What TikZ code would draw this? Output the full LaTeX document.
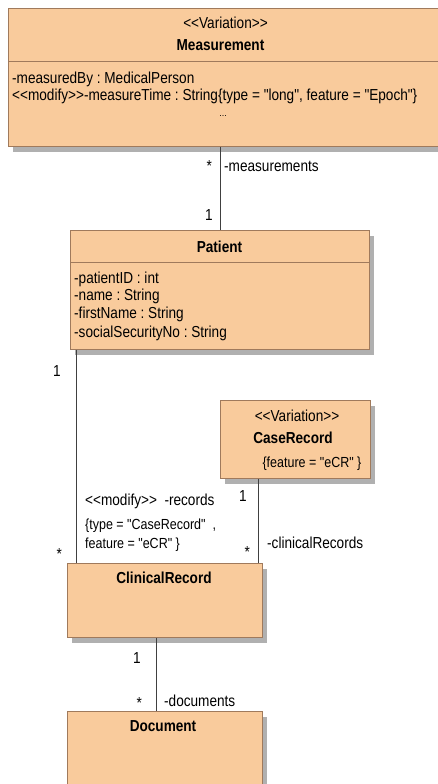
\documentclass[tikz,border=0pt]{standalone}
\usepackage{graphicx}
\usetikzlibrary{shadows}
\font\lsreg="Liberation Sans" at 13.6pt
\font\lsbold="Liberation Sans/B" at 13.6pt
\font\lssmall="Liberation Sans" at 12.5pt
\font\lstiny="Liberation Sans" at 9pt
\frenchspacing
\newcommand{\vst}[1]{\scalebox{1}[1.17]{#1}}
\definecolor{boxfill}{HTML}{F9CB9C}
\definecolor{boxline}{HTML}{A07A5C}
\definecolor{shadowc}{HTML}{B0B0B0}
\definecolor{linec}{HTML}{404040}
\tikzset{
  umlbox/.style={draw=boxline, fill=boxfill, line width=1pt, inner sep=0pt, anchor=north west,
    rectangle, general shadow={shadow xshift=4pt, shadow yshift=-5pt, fill=shadowc}},
  txt/.style={inner sep=0pt, font=\lsreg},
  btxt/.style={inner sep=0pt, font=\lsbold},
  stxt/.style={inner sep=0pt, font=\lssmall},
  conn/.style={draw=linec, line width=0.8pt},
}
\begin{document}
\begin{tikzpicture}[x=1pt,y=-1pt]
\clip (0,0) rectangle (438,784);
\fill[white] (0,0) rectangle (438,784);

% boxes
\node[umlbox, minimum width=432pt, minimum height=138pt] (meas) at (8,8) {};
\draw[boxline, line width=1pt] (meas.west |- 0,62) -- (meas.east |- 0,62);
\node[umlbox, minimum width=299pt, minimum height=119pt] (patient) at (70,230) {};
\draw[boxline, line width=1pt] (patient.west |- 0,262) -- (patient.east |- 0,262);
\node[umlbox, minimum width=150pt, minimum height=78pt] (caserec) at (220,400) {};
\node[umlbox, minimum width=195pt, minimum height=74pt] (clin) at (67,563) {};
\node[umlbox, minimum width=195pt, minimum height=95pt] (doc) at (67,711) {};

% Measurement texts
\node[txt, anchor=base] (mvar) at (225.5,29) {\vst{<<Variation>>}};
\node[btxt, anchor=base] (mname) at (220.5,51) {\vst{Measurement}};
\node[txt, anchor=base west] (ma1) at (12,84) {\vst{-measuredBy : MedicalPerson}};
\node[txt, anchor=base west] (ma2) at (12,100) {\vst{<<modify>>-measureTime : String\{type = "long", feature = "Epoch"\}}};
\node[inner sep=0pt, font=\lstiny, anchor=base] (mdots) at (223,116) {...};

% Patient texts
\node[btxt, anchor=base] (pname) at (219.5,252) {\vst{Patient}};
\node[txt, anchor=base west] (pa1) at (74,283) {\vst{-patientID : int}};
\node[txt, anchor=base west] (pa2) at (74,300.5) {\vst{-name : String}};
\node[txt, anchor=base west] (pa3) at (74,318.5) {\vst{-firstName : String}};
\node[txt, anchor=base west] (pa4) at (74,337) {\vst{-socialSecurityNo : String}};

% CaseRecord texts
\node[txt, anchor=base] (cvar) at (297,421) {\vst{<<Variation>>}};
\node[btxt, anchor=base] (cname) at (293,443) {\vst{CaseRecord}};
\node[stxt, anchor=base] (cfeat) at (312,467) {\vst{\{feature = "eCR" \}}};

% ClinicalRecord / Document texts
\node[btxt, anchor=base] (clname) at (164,583) {\vst{ClinicalRecord}};
\node[btxt, anchor=base] (dname) at (163,731) {\vst{Document}};

% connectors
\draw[conn] (patient.north) -- (patient.north |- meas.south);
\coordinate (pb) at ([xshift=6pt]patient.south west);
\draw[conn] (pb) -- (pb |- clin.north);
\coordinate (cb) at ([xshift=38pt]caserec.south west);
\draw[conn] (cb) -- (cb |- clin.north);
\coordinate (clb) at ([xshift=89pt]clin.south west);
\draw[conn] (clb) -- (clb |- doc.north);

% association labels
\node[txt, anchor=base east] (l1) at (212,171) {\vst{*}};
\node[txt, anchor=base west] (l2) at (224,171) {\vst{-measurements}};
\node[txt, anchor=base east] (l3) at (213,220) {\vst{1}};

\node[txt, anchor=base east] (l4) at (61,376) {\vst{1}};
\node[txt, anchor=base west] (l5) at (85,505) {\vst{<<modify>> \ -records}};
\node[stxt, anchor=base west] (l6) at (85,529) {\vst{\{type = "CaseRecord" \ ,}};
\node[stxt, anchor=base west] (l7) at (85,548) {\vst{feature = "eCR" \}}};
\node[txt, anchor=base east] (l8) at (62,559) {\vst{*}};

\node[txt, anchor=base east] (l9) at (247,501) {\vst{1}};
\node[txt, anchor=base east] (l10) at (250,557) {\vst{*}};
\node[txt, anchor=base west] (l11) at (267,548) {\vst{-clinicalRecords}};

\node[txt, anchor=base east] (l12) at (141,663) {\vst{1}};
\node[txt, anchor=base east] (l13) at (142,708) {\vst{*}};
\node[txt, anchor=base west] (l14) at (164,706) {\vst{-documents}};
\end{tikzpicture}
\end{document}
